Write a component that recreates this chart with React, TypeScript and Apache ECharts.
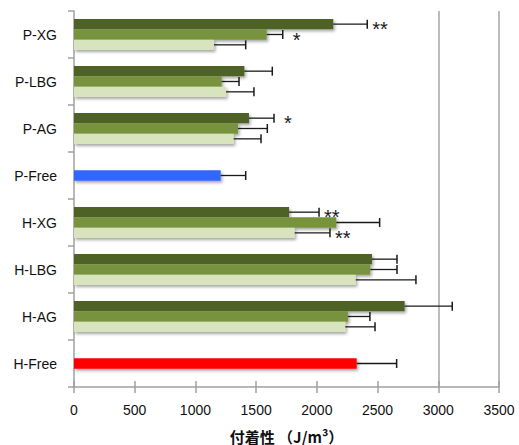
import React, { useEffect, useRef } from "react";
import * as echarts from "echarts";

const categories = ["H-Free", "H-AG", "H-LBG", "H-XG", "P-Free", "P-AG", "P-LBG", "P-XG"];
// light (bottom of each group), medium / Free (middle), dark (top)
const lightValues = [null, 2234, 2320, 1817, null, 1315, 1252, 1153];
const lightErr = [null, 245, 496, 291, null, 225, 230, 261];
const lightSig = ["", "", "", "**", "", "", "", ""];
const mediumValues = [2328, 2256, 2440, 2160, 1208, 1351, 1216, 1587];
const mediumErr = [329, 181, 220, 357, 206, 241, 143, 132];
const mediumSig = ["", "", "", "", "", "", "", "*"];
const darkValues = [null, 2723, 2454, 1771, null, 1441, 1403, 2135];
const darkErr = [null, 392, 206, 247, null, 206, 230, 280];
const darkSig = ["", "", "", "**", "", "*", "", "**"];
const xTicks = [0, 500, 1000, 1500, 2000, 2500, 3000, 3500];
const axisTitle = "付着性 （J/m³）";

const colLight = "#D7E4BD";
const colMedium = "#77933C";
const colDark = "#4F6228";
const colHFree = "#FF0000";
const colPFree = "#3366FF";

const FONT = "'Liberation Sans', Arial, sans-serif";

export default function App() {
  const ref = useRef<HTMLDivElement>(null);
  useEffect(() => {
    if (!ref.current) return;
    const chart = echarts.init(ref.current, null, { renderer: "svg" });
    const shadow = {
      shadowBlur: 3,
      shadowColor: "rgba(0,0,0,0.35)",
      shadowOffsetX: 1.5,
      shadowOffsetY: 2,
    };
    const barSeries = (name: string, vals: (number | null)[], color: string, special?: Record<number, string>) => ({
      type: "bar",
      name,
      data: vals.map((v, i) =>
        special && special[i] ? { value: v, itemStyle: { color: special[i] } } : v
      ),
      barGap: "0%",
      barCategoryGap: "34%",
      itemStyle: { color, ...shadow },
      silent: true,
    });
    const errSeries = (vals: (number | null)[], errs: (number | null)[], sigs: string[], pos: number) => ({
      type: "custom",
      silent: true,
      z: 10,
      encode: { x: 0, y: 1 },
      data: vals
        .map((v, i) => (v == null ? null : [v, i, errs[i] ?? 0, sigs[i] ? 1 : 0, sigs[i].length]))
        .filter((d) => d != null),
      renderItem: (params: any, api: any) => {
        const v = api.value(0);
        const c = api.value(1);
        const e = api.value(2);
        const hasSig = api.value(3);
        const nStar = api.value(4);
        const p0 = api.coord([v, c]);
        const p1 = api.coord([v + e, c]);
        const band = api.size([0, 1])[1];
        const bw = (band * 0.66) / 3;
        const y = p0[1] - pos * bw;
        const children: any[] = [
          { type: "line", shape: { x1: p0[0], y1: y, x2: p1[0], y2: y }, style: { stroke: "#1a1a1a", lineWidth: 1.3 } },
          { type: "line", shape: { x1: p1[0], y1: y - 4.5, x2: p1[0], y2: y + 4.5 }, style: { stroke: "#1a1a1a", lineWidth: 1.5 } },
        ];
        if (hasSig) {
          children.push({
            type: "text",
            x: p1[0] + (nStar > 1 ? 5 : 10),
            y: y + 5,
            style: {
              text: nStar > 1 ? "**" : "*",
              fill: "#1a1a1a",
              font: `20px ${FONT}`,
              align: "left",
              verticalAlign: "middle",
            },
          });
        }
        return { type: "group", children };
      },
    });

    const splitColors = xTicks.map((t) => (t >= 3000 ? "#a6a6a6" : "transparent"));

    chart.setOption({
      animation: false,
      grid: { left: 74, right: 20, top: 11, bottom: 58, containLabel: false, outerBoundsMode: "none" },
      xAxis: [
        {
          type: "value",
          min: 0,
          max: 3500,
          interval: 500,
          position: "bottom",
          name: axisTitle,
          nameLocation: "middle",
          nameGap: 40,
          nameTextStyle: {
            fontFamily: "'Noto Sans CJK JP', sans-serif",
            fontWeight: "bold",
            fontSize: 15,
            lineHeight: 18,
            color: "#111",
          },
          axisLine: { show: true, lineStyle: { color: "#a0a0a0", width: 1.5 } },
          axisTick: { show: true, length: 6, inside: false, lineStyle: { color: "#a0a0a0", width: 1.5 } },
          axisLabel: { color: "#111", fontSize: 14, fontFamily: FONT, margin: 16, formatter: (v: number) => String(v) },
          splitLine: { show: true, lineStyle: { color: splitColors, width: 1.5 } },
        },
        {
          type: "value",
          min: 0,
          max: 3500,
          interval: 500,
          position: "bottom",
          axisLine: { show: false },
          axisTick: { show: true, length: 6, inside: true, lineStyle: { color: "#a0a0a0", width: 1.5 } },
          axisLabel: { show: false },
          splitLine: { show: false },
        },
      ],
      yAxis: {
        type: "category",
        data: categories,
        axisLine: { show: true, lineStyle: { color: "#a0a0a0", width: 1.5 } },
        axisTick: { show: true, length: 6, lineStyle: { color: "#a0a0a0", width: 1.5 } },
        axisLabel: { color: "#111", fontSize: 14, fontFamily: FONT, margin: 17 },
      },
      series: [
        barSeries("dark", darkValues, colDark),
        barSeries("medium", mediumValues, colMedium, { 0: colHFree, 4: colPFree }),
        barSeries("light", lightValues, colLight),
        errSeries(lightValues, lightErr, lightSig, -1),
        errSeries(mediumValues, mediumErr, mediumSig, 0),
        errSeries(darkValues, darkErr, darkSig, 1),
      ],
    });
    return () => chart.dispose();
  }, []);
  return (
    <div
      ref={ref}
      style={{ position: "fixed", left: 0, top: 0, width: 519, height: 445, background: "#fff" }}
    />
  );
}
